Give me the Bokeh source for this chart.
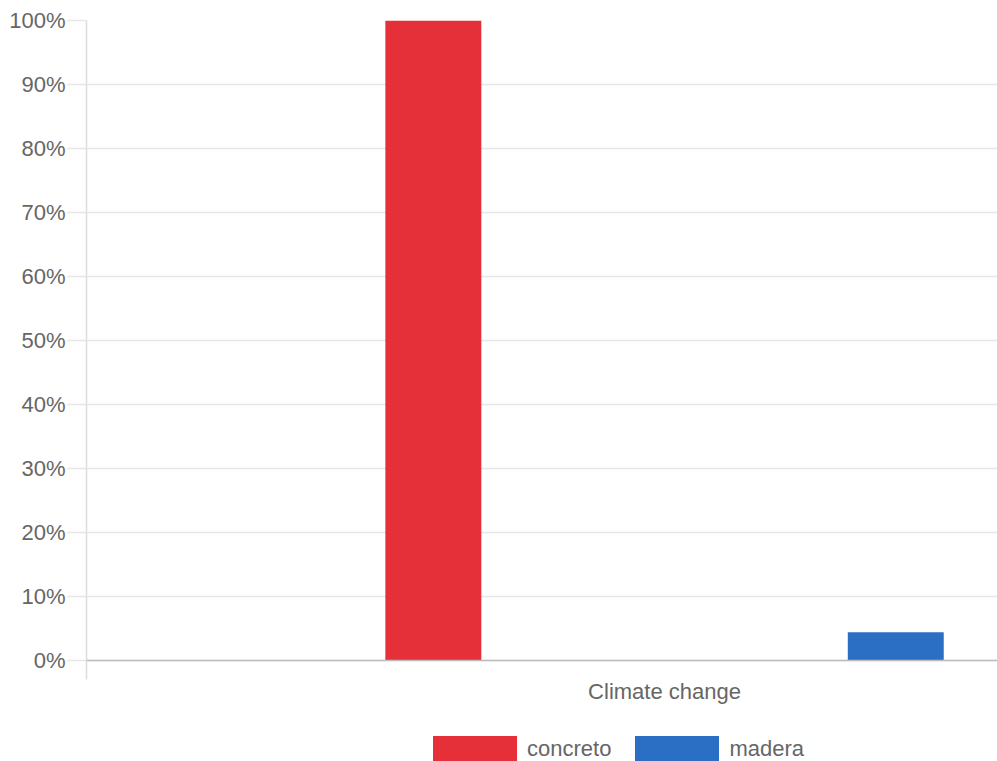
from bokeh.plotting import figure
from bokeh.layouts import column
from bokeh.models import (ColumnDataSource, Range1d, FixedTicker, PrintfTickFormatter,
                          Span, Legend, LegendItem)
from bokeh.transform import dodge
from bokeh.embed import file_html
from bokeh.resources import INLINE

# Impact category and the share of each material (percent of the largest)
categories = ["Climate change"]
series = ["concreto", "madera"]
concreto = [100.0]
madera = [4.4]
y_ticks = [0, 10, 20, 30, 40, 50, 60, 70, 80, 90, 100]

FONT = "Liberation Sans"
TEXT = "#666666"
GRID = "#e6e6e6"
COLORS = {"concreto": "#e5303a", "madera": "#2a6fc4"}
OFFSETS = {"concreto": -0.2, "madera": 0.2}
BAR_W = 0.083

source = ColumnDataSource(dict(
    x=list(range(len(categories))),
    concreto=concreto,
    madera=madera,
))

# ---- main chart ----
p = figure(width=997, height=710, output_backend="svg", toolbar_location=None,
           x_range=Range1d(-0.5, 0.288), y_range=Range1d(-2.97, 100),
           min_border_left=86, min_border_right=0, min_border_top=20,
           min_border_bottom=31, outline_line_color=None)

for s in series:
    p.vbar(x=dodge("x", OFFSETS[s], range=p.x_range), top=s, width=BAR_W,
           source=source, fill_color=COLORS[s], line_color=None)

# baseline at zero
p.add_layout(Span(location=0, dimension="width", line_color="#bdbdbd", line_width=1.5))

# y axis
p.yaxis.ticker = FixedTicker(ticks=y_ticks)
p.yaxis.formatter = PrintfTickFormatter(format="%d%%")
p.yaxis.axis_line_color = "#dcdcdc"
p.yaxis.axis_line_width = 1.5
p.yaxis.major_tick_out = 19
p.yaxis.major_tick_in = 0
p.yaxis.major_tick_line_color = GRID
p.yaxis.major_tick_line_width = 1.5
p.yaxis.minor_tick_line_color = None
p.yaxis.major_label_standoff = 2
p.yaxis.major_label_text_font = FONT
p.yaxis.major_label_text_font_size = "22px"
p.yaxis.major_label_text_color = TEXT

# x axis: only the category name
p.xaxis.ticker = FixedTicker(ticks=list(range(len(categories))))
p.xaxis.major_label_overrides = {i: c for i, c in enumerate(categories)}
p.xaxis.axis_line_color = None
p.xaxis.major_tick_line_color = None
p.xaxis.minor_tick_line_color = None
p.xaxis.major_tick_out = 0
p.xaxis.major_tick_in = 0
p.xaxis.major_label_standoff = -1
p.xaxis.major_label_text_font = FONT
p.xaxis.major_label_text_font_size = "22px"
p.xaxis.major_label_text_color = TEXT

p.xgrid.grid_line_color = None
p.ygrid.ticker = FixedTicker(ticks=y_ticks)
p.ygrid.grid_line_color = GRID
p.ygrid.grid_line_width = 1.5

# ---- legend strip below the chart ----
lg = figure(width=997, height=51, output_backend="svg", toolbar_location=None,
            x_range=Range1d(-0.5, 0.288), y_range=Range1d(1000, 1100),
            min_border=0, outline_line_color=None)
lg.axis.visible = False
lg.grid.grid_line_color = None

items = []
for s in series:
    r = lg.vbar(x=dodge("x", OFFSETS[s], range=lg.x_range), top=s, width=BAR_W,
                source=source, fill_color=COLORS[s], line_color=None)
    items.append(LegendItem(label=s, renderers=[r]))

legend = Legend(items=items, location=(336, -5), orientation="horizontal",
                glyph_width=105, glyph_height=34, label_standoff=-4, spacing=13,
                padding=0, margin=0, border_line_color=None,
                background_fill_alpha=0,
                label_text_font=FONT, label_text_font_size="22px",
                label_text_color=TEXT, label_height=34)
lg.add_layout(legend, "center")

layout = column(p, lg, spacing=0)
open("out.html", "w").write(file_html(layout, INLINE))
